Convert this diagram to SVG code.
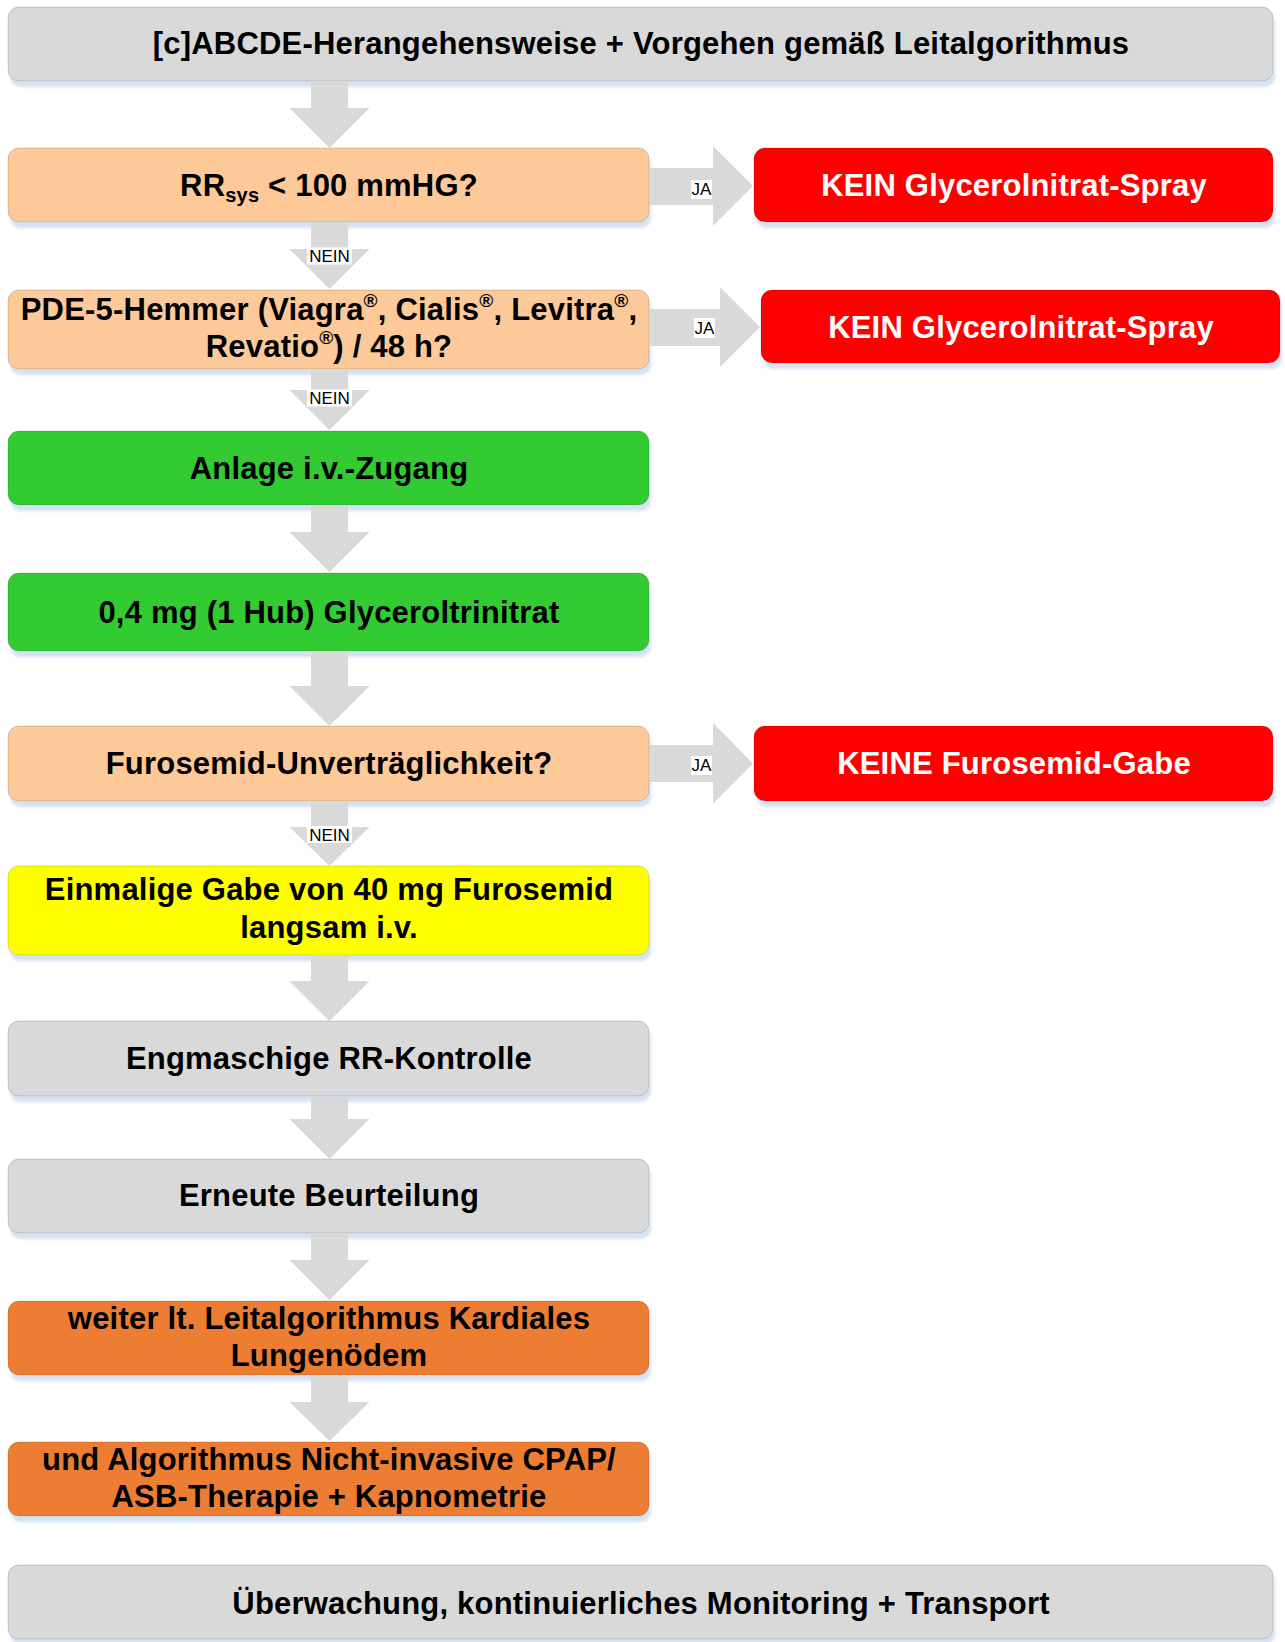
<svg xmlns="http://www.w3.org/2000/svg" width="1285" height="1642" viewBox="0 0 1285 1642">
  <defs>
    <!-- soft blue drop shadow under each box -->
    <filter id="boxShadow" x="-5%" y="-20%" width="112%" height="160%">
      <feGaussianBlur in="SourceAlpha" stdDeviation="1.5" result="blur"/>
      <feOffset in="blur" dx="2" dy="6" result="off"/>
      <feFlood flood-color="#d4e2f3" result="col"/>
      <feComposite in="col" in2="off" operator="in" result="shadow"/>
      <feMerge>
        <feMergeNode in="shadow"/>
        <feMergeNode in="SourceGraphic"/>
      </feMerge>
    </filter>
  </defs>
  <style>
    .box { stroke: #000; stroke-opacity: 0.16; stroke-width: 1; filter: url(#boxShadow); }
    .grey { fill: #d9d9d9; }
    .peach { fill: #fdc998; }
    .red { fill: #ff0000; }
    .green { fill: #33cc33; }
    .yellow { fill: #ffff00; }
    .orange { fill: #ed7d31; }
    .t { font-family: "Liberation Sans", Arial, sans-serif; font-weight: bold; font-size: 31px; letter-spacing: 0.2px; text-anchor: middle; fill: #000; }
    .w { fill: #fff; }
    .arrow { fill: #d9d9d9; }
    .lblbg { fill: #fff; }
    .lbl { font-family: "Liberation Sans", Arial, sans-serif; font-size: 17px; text-anchor: middle; fill: #000; }
  </style>

  <rect width="1285" height="1642" fill="#fff"/>

  <!-- nodes -->
  <g id="start">
    <rect class="box grey" x="8" y="7" width="1265" height="74" rx="11"/>
    <text class="t" x="641" y="54">[c]ABCDE-Herangehensweise + Vorgehen gemäß Leitalgorithmus</text>
  </g>

  <g id="rrsys">
    <rect class="box peach" x="8" y="148" width="641" height="74" rx="11"/>
    <text class="t" x="329" y="196">RR<tspan font-size="20" dy="6">sys</tspan><tspan dy="-6"> &lt; 100 mmHG?</tspan></text>
  </g>

  <g id="no-gtn-1">
    <rect class="box red" x="754" y="148" width="519" height="74" rx="11"/>
    <text class="t w" x="1014" y="196">KEIN Glycerolnitrat-Spray</text>
  </g>

  <g id="pde5">
    <rect class="box peach" x="8" y="290" width="641" height="79" rx="11"/>
    <text class="t" x="329" y="320">PDE-5-Hemmer (Viagra<tspan font-size="19" dy="-13">®</tspan><tspan dy="13">, Cialis</tspan><tspan font-size="19" dy="-13">®</tspan><tspan dy="13">, Levitra</tspan><tspan font-size="19" dy="-13">®</tspan><tspan dy="13">,</tspan></text>
    <text class="t" x="329" y="357">Revatio<tspan font-size="19" dy="-13">®</tspan><tspan dy="13">) / 48 h?</tspan></text>
  </g>

  <g id="no-gtn-2">
    <rect class="box red" x="761" y="290" width="519" height="73" rx="11"/>
    <text class="t w" x="1021" y="338">KEIN Glycerolnitrat-Spray</text>
  </g>

  <g id="iv-access">
    <rect class="box green" x="8" y="431" width="641" height="74" rx="11"/>
    <text class="t" x="329" y="479">Anlage i.v.-Zugang</text>
  </g>

  <g id="gtn-dose">
    <rect class="box green" x="8" y="573" width="641" height="78" rx="11"/>
    <text class="t" x="329" y="623">0,4 mg (1 Hub) Glyceroltrinitrat</text>
  </g>

  <g id="furo-check">
    <rect class="box peach" x="8" y="726" width="641" height="75" rx="11"/>
    <text class="t" x="329" y="774">Furosemid-Unverträglichkeit?</text>
  </g>

  <g id="no-furo">
    <rect class="box red" x="754" y="726" width="519" height="75" rx="11"/>
    <text class="t w" x="1014" y="774">KEINE Furosemid-Gabe</text>
  </g>

  <g id="furo-dose">
    <rect class="box yellow" x="8" y="866" width="641" height="89" rx="11"/>
    <text class="t" x="329" y="900">Einmalige Gabe von 40 mg Furosemid</text>
    <text class="t" x="329" y="938">langsam i.v.</text>
  </g>

  <g id="rr-control">
    <rect class="box grey" x="8" y="1021" width="641" height="75" rx="11"/>
    <text class="t" x="329" y="1069">Engmaschige RR-Kontrolle</text>
  </g>

  <g id="reassess">
    <rect class="box grey" x="8" y="1159" width="641" height="74" rx="11"/>
    <text class="t" x="329" y="1206">Erneute Beurteilung</text>
  </g>

  <g id="edema-algo">
    <rect class="box orange" x="8" y="1301" width="641" height="74" rx="11"/>
    <text class="t" x="329" y="1329">weiter lt. Leitalgorithmus Kardiales</text>
    <text class="t" x="329" y="1366">Lungenödem</text>
  </g>

  <g id="cpap-algo">
    <rect class="box orange" x="8" y="1442" width="641" height="74" rx="11"/>
    <text class="t" x="329" y="1470">und Algorithmus Nicht-invasive CPAP/</text>
    <text class="t" x="329" y="1507">ASB-Therapie + Kapnometrie</text>
  </g>

  <g id="monitoring">
    <rect class="box grey" x="8" y="1565" width="1265" height="74" rx="11"/>
    <text class="t" x="641" y="1614">Überwachung, kontinuierliches Monitoring + Transport</text>
  </g>

  <!-- connectors: block arrows with yes/no labels -->
  <g id="connectors">
    <polygon class="arrow" points="311,82 348,82 348,108 369.5,108 329.5,148 289.5,108 311,108"/>

    <polygon class="arrow" points="311,223 348,223 348,249 369.5,249 329.5,289 289.5,249 311,249"/>
    <rect class="lblbg" x="307" y="247.5" width="45" height="17"/>
    <text class="lbl" x="329.5" y="262">NEIN</text>

    <polygon class="arrow" points="649,168 713,168 713,146 753,186 713,226 713,205 649,205"/>
    <rect class="lblbg" x="691" y="180" width="21" height="19"/>
    <text class="lbl" x="701.5" y="195" font-size="18">JA</text>

    <polygon class="arrow" points="649,309 720,309 720,287 760,327 720,367 720,346 649,346"/>
    <rect class="lblbg" x="694" y="318" width="21" height="20"/>
    <text class="lbl" x="704.5" y="334" font-size="18">JA</text>

    <polygon class="arrow" points="311,370 348,370 348,390 369.5,390 329.5,430 289.5,390 311,390"/>
    <rect class="lblbg" x="307" y="389.5" width="45" height="17"/>
    <text class="lbl" x="329.5" y="404">NEIN</text>

    <polygon class="arrow" points="311,506 348,506 348,532 369.5,532 329.5,572 289.5,532 311,532"/>

    <polygon class="arrow" points="311,652 348,652 348,686 369.5,686 329.5,726 289.5,686 311,686"/>

    <polygon class="arrow" points="649,745 713,745 713,723 753,763.5 713,804 713,782 649,782"/>
    <rect class="lblbg" x="691" y="756" width="21" height="19"/>
    <text class="lbl" x="701.5" y="771" font-size="18">JA</text>

    <polygon class="arrow" points="311,802 348,802 348,827 369.5,827 329.5,866 289.5,827 311,827"/>
    <rect class="lblbg" x="307" y="826" width="45" height="17"/>
    <text class="lbl" x="329.5" y="841">NEIN</text>

    <polygon class="arrow" points="311,956 348,956 348,981 369.5,981 329.5,1021 289.5,981 311,981"/>

    <polygon class="arrow" points="311,1097 348,1097 348,1119 369.5,1119 329.5,1159 289.5,1119 311,1119"/>

    <polygon class="arrow" points="311,1234 348,1234 348,1260 369.5,1260 329.5,1300 289.5,1260 311,1260"/>

    <polygon class="arrow" points="311,1376 348,1376 348,1402 369.5,1402 329.5,1441 289.5,1402 311,1402"/>
  </g>
</svg>
